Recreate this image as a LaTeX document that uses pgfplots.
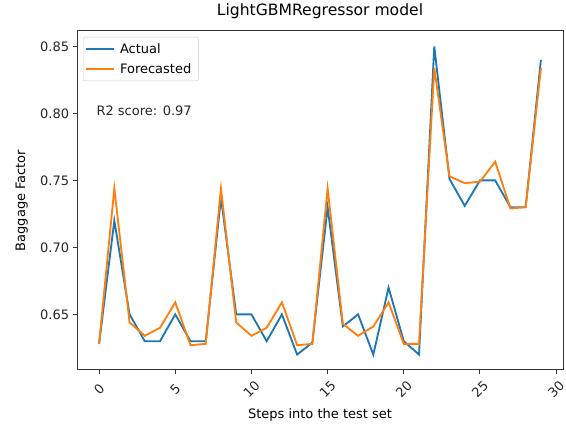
\documentclass[border=0pt]{standalone}
\usepackage{fontspec}
\setmainfont{DejaVu Sans}
\usepackage{pgfplots}
\pgfplotsset{compat=1.18}
\definecolor{tabblue}{HTML}{1F77B4}
\definecolor{taborange}{HTML}{FF7F0E}
\newcommand{\tickfont}{\fontsize{13}{15.6}\selectfont}
\newcommand{\titlefont}{\fontsize{15.6}{18.7}\selectfont}

\begin{document}
\begin{tikzpicture}[x=1pt,y=1pt]
\useasboundingbox (0,0) rectangle (566,425);
\begin{axis}[
  at={(77pt,55pt)}, anchor=south west,
  scale only axis, width=486pt, height=339pt,
  xmin=-1.45, xmax=30.45, ymin=0.6085, ymax=0.8615,
  xtick={0,5,...,30}, ytick={0.65,0.70,...,0.86},
  /pgf/number format/assume math mode=true,
  /pgf/number format/.cd, fixed, fixed zerofill, precision=2, /pgfplots/.cd,
  xticklabel={\pgfmathprintnumber[fixed, precision=0]{\tick}},
  axis line style={black!80, line width=1pt},
  tick style={black!80, line width=1pt},
  tick align=outside, xtick pos=bottom, ytick pos=left,
  major tick length=4.3pt,
  tick label style={font=\tickfont, text=black!85},
  xticklabel style={yshift=-15pt, rotate=45, anchor=center},
  title={LightGBMRegressor model},
  title style={font=\titlefont, at={(0.5,1)}, anchor=base, yshift=9.3pt},
  xlabel={Steps into the test set},
  xlabel style={font=\tickfont, at={(0.5,0)}, anchor=base, yshift=-49pt},
  ylabel={Baggage Factor},
  ylabel style={font=\tickfont, at={(0,0.5)}, anchor=base, yshift=52pt},
  legend cell align=left,
  legend style={at={(0,1)}, anchor=north west, xshift=6pt, yshift=-6pt,
    draw=black!20, rounded corners=2pt, font=\tickfont, fill=white,
    inner xsep=2pt, inner ysep=4pt, row sep=5pt, nodes={inner xsep=5pt}},
  legend image code/.code={\draw[#1] (0pt,0pt) -- (28pt,0pt);},
]
\addplot[tabblue, line width=1.85pt] coordinates {
(0,0.628) (1,0.720) (2,0.650) (3,0.630) (4,0.630) (5,0.650) (6,0.630) (7,0.630)
(8,0.737) (9,0.650) (10,0.650) (11,0.630) (12,0.650) (13,0.620) (14,0.629)
(15,0.730) (16,0.641) (17,0.650) (18,0.620) (19,0.670) (20,0.630) (21,0.620)
(22,0.850) (23,0.751) (24,0.731) (25,0.750) (26,0.750) (27,0.730) (28,0.730)
(29,0.840)};
\addlegendentry{Actual}
\addplot[taborange, line width=1.85pt] coordinates {
(0,0.628) (1,0.744) (2,0.644) (3,0.634) (4,0.640) (5,0.659) (6,0.627) (7,0.628)
(8,0.744) (9,0.644) (10,0.634) (11,0.640) (12,0.659) (13,0.627) (14,0.628)
(15,0.744) (16,0.643) (17,0.634) (18,0.641) (19,0.659) (20,0.628) (21,0.628)
(22,0.834) (23,0.753) (24,0.748) (25,0.749) (26,0.764) (27,0.729) (28,0.730)
(29,0.834)};
\addlegendentry{Forecasted}
\node[font=\tickfont, text=black!85, anchor=west] at (axis cs:-0.4,0.802) {R2 score: 0.97};
\end{axis}
\end{tikzpicture}
\end{document}
